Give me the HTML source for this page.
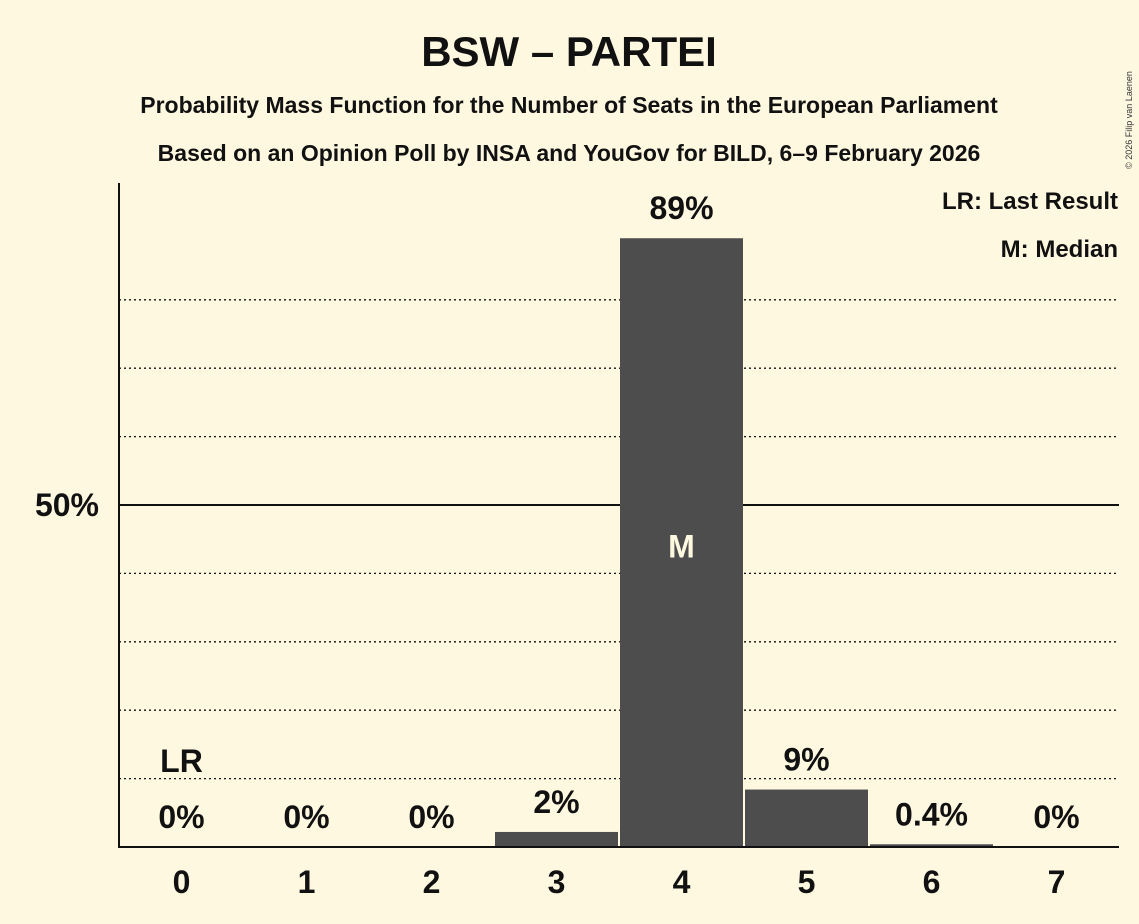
<!DOCTYPE html>
<html><head><meta charset="utf-8"><style>
body{margin:0;background:#fff8e1;}
svg{display:block;font-family:"Liberation Sans",sans-serif;}
</style></head><body>
<svg id="chart" width="1139" height="924">
<rect width="1139" height="924" fill="#fff8e1"/>
<text x="569" y="66" text-anchor="middle" font-size="42" font-weight="bold" fill="#111">BSW – PARTEI</text>
<text x="569" y="113" text-anchor="middle" font-size="23" font-weight="bold" fill="#111">Probability Mass Function for the Number of Seats in the European Parliament</text>
<text x="569" y="161" text-anchor="middle" font-size="23" font-weight="bold" fill="#111">Based on an Opinion Poll by INSA and YouGov for BILD, 6–9 February 2026</text>
<text x="1132" y="120" font-size="9" fill="#333" transform="rotate(-90 1132 120)" text-anchor="middle">© 2026 Filip van Laenen</text>
<text x="1118" y="209" text-anchor="end" font-size="24" font-weight="bold" fill="#111">LR: Last Result</text>
<text x="1118" y="257" text-anchor="end" font-size="24" font-weight="bold" fill="#111">M: Median</text>
<g id="grid"></g>
<g id="bars"></g>
<g id="labels"></g>
<line x1="119" y1="183" x2="119" y2="848" stroke="#111" stroke-width="2"/>
<line x1="118" y1="847" x2="1119" y2="847" stroke="#111" stroke-width="2"/>
</svg>
<script>
const categories=[0,1,2,3,4,5,6,7];
const values=[0,0,0,2.2,89,8.4,0.4,0];
const valueLabels=["0%","0%","0%","2%","89%","9%","0.4%","0%"];
const gridTicks=[10,20,30,40,50,60,70,80];
const lastResult=0, median=4;
const ns="http://www.w3.org/2000/svg";
const x0=119,bw=125,base=847,pxPer=6.84;
const y=v=>base-v*pxPer;
const xs=i=>x0+i*bw;
function mk(t,a,p){const e=document.createElementNS(ns,t);for(const k in a)e.setAttribute(k,a[k]);p.appendChild(e);return e;}
const g=document.getElementById('grid'),b=document.getElementById('bars'),l=document.getElementById('labels');
gridTicks.forEach(t=>{
 const ln=mk('line',{x1:x0,x2:1119,y1:y(t),y2:y(t),stroke:'#111','stroke-width':t===50?2:1.3,'stroke-dasharray':t===50?'':'2,3'},g);
 
 
 if(t===50){const tx=mk('text',{x:99,y:y(t)+11,'text-anchor':'end','font-size':32,'font-weight':'bold',fill:'#111'},l);tx.textContent='50%';
 
 }
});
categories.forEach((c,i)=>{
 const v=values[i];
 if(v>0){const r=mk('rect',{x:xs(i)+1,y:y(v),width:bw-2,height:base-y(v),fill:'#4d4d4d'},b);
 
 }
 const vl=mk('text',{x:xs(i)+bw/2,y:y(v)-19,'text-anchor':'middle','font-size':32,'font-weight':'bold',fill:'#111'},l);
 vl.textContent=valueLabels[i];
 
 
 const xl=mk('text',{x:xs(i)+bw/2,y:base+46,'text-anchor':'middle','font-size':32,'font-weight':'bold',fill:'#111'},l);
 xl.textContent=c;
 
 
 if(c===lastResult){const lr=mk('text',{x:xs(i)+bw/2,y:y(v)-75,'text-anchor':'middle','font-size':32,'font-weight':'bold',fill:'#111'},l);lr.textContent='LR';
 
 }
 if(c===median){const m=mk('text',{x:xs(i)+bw/2,y:(y(v)+base)/2+15,'text-anchor':'middle','font-size':32,'font-weight':'bold',fill:'#fff8e1'},l);m.textContent='M';
 
 }
});
</script>
</body></html>
